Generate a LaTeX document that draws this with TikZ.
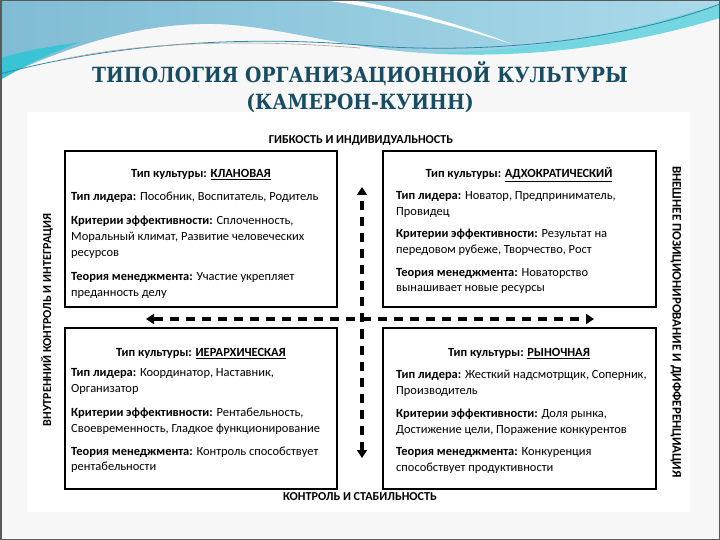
\documentclass[tikz,border=0pt]{standalone}
\usepackage{fontspec}
\setmainfont{Carlito}
\newfontfamily\slideserif{DejaVu Serif Condensed}
\usetikzlibrary{arrows.meta}
\definecolor{titleblue}{RGB}{24,76,98}
\definecolor{wavesteel}{RGB}{128,188,212}
\definecolor{wavelight}{RGB}{170,218,234}
\definecolor{wavecyan}{RGB}{56,196,212}
\definecolor{waveline}{RGB}{44,140,166}
\definecolor{slidebg}{RGB}{247,247,247}
\newcommand{\lbl}[1]{\textbf{#1}}
\newcommand{\kind}[1]{\textbf{Тип культуры: \underline{#1}}}
\tikzset{
  quad/.style={draw, line width=1.8bp, inner sep=0pt},
  qtitle/.style={font=\fontsize{12.5}{16}\selectfont, anchor=base},
  qbody/.style={font=\fontsize{12.5}{16}\selectfont, align=left, anchor=north west, inner sep=0pt},
  axislabel/.style={font=\bfseries\fontsize{12.2}{14}\selectfont},
  dasharrow/.style={line width=3.5bp, dash pattern=on 9bp off 7bp,
    {Triangle[length=8bp,width=10bp]}-{Triangle[length=8bp,width=10bp]}}
}

\begin{document}
\begin{tikzpicture}[x=1bp, y=-1bp]
\useasboundingbox (0,0) rectangle (720,540);
% slide
\fill[slidebg] (0,0) rectangle (720,540);
\fill[white] (27,112) rectangle (690,512);
% wave
\shade[left color=wavesteel, right color=wavelight] (0,0) -- (720,0) -- (720,12)
  .. controls (640,38) and (540,58) .. (440,54)
  .. controls (340,50) and (270,22) .. (200,24)
  .. controls (120,26) and (50,55) .. (0,78) -- cycle;
\fill[wavecyan] (0,58) .. controls (30,50) .. (80,42) .. controls (40,58) .. (0,80) -- cycle;
\fill[wavecyan!70] (430,53) .. controls (560,50) and (650,25) .. (720,4) -- (720,18)
  .. controls (640,42) and (540,60) .. (430,53);
\fill[white] (322,0) .. controls (400,10) and (460,28) .. (512,44)
  .. controls (450,20) and (390,6) .. (350,0) -- cycle;
\draw[waveline, line width=0.8bp] (0,74) .. controls (120,42) and (250,36) .. (360,45)
  .. controls (480,55) and (620,42) .. (720,4);
\draw[gray!70, line width=0.6bp] (60,60) .. controls (150,40) and (260,40) .. (360,48);
\draw[gray!70!black, line width=1.5bp] (0.75,0.75) rectangle (719.25,539.25);
% title
\node[font=\slideserif\bfseries\fontsize{21}{27}\selectfont, text=titleblue, align=center]
  (title) at (360,87) {ТИПОЛОГИЯ ОРГАНИЗАЦИОННОЙ КУЛЬТУРЫ\\(КАМЕРОН-КУИНН)};

% quadrants
\node[quad, minimum width=272bp, minimum height=156bp] (clan) at (201,229) {};
\node[quad, minimum width=273bp, minimum height=156bp] (adhoc) at (519.5,229) {};
\node[quad, minimum width=272bp, minimum height=161bp] (hier) at (201,408.5) {};
\node[quad, minimum width=273bp, minimum height=161bp] (market) at (519.5,408.5) {};

% axes
\coordinate (flex) at (362,187);
\coordinate (stab) at (362,458);
\coordinate (inner) at (146,319);
\coordinate (outer) at (594,319);
\draw[dasharrow] (stab) -- (flex);
\draw[dasharrow] (inner) -- (outer);

% axis labels
\node[axislabel] (flexlbl) at (361,140) {ГИБКОСТЬ И ИНДИВИДУАЛЬНОСТЬ};
\node[axislabel] (stablbl) at (360,497) {КОНТРОЛЬ И СТАБИЛЬНОСТЬ};
\node[axislabel, rotate=90] (innerlbl) at (47,320) {ВНУТРЕННИЙ КОНТРОЛЬ И ИНТЕГРАЦИЯ};
\node[axislabel, font=\bfseries\fontsize{13}{15}\selectfont, rotate=-90] (outerlbl) at (676,322) {ВНЕШНЕЕ ПОЗИЦИОНИРОВАНИЕ И ДИФФЕРЕНЦИАЦИЯ};

% clan
\node[qtitle] (clant) at (201,177.5) {\kind{КЛАНОВАЯ}};
\node[qbody] (clanb) at (71,192) {\lbl{Тип лидера:} Пособник, Воспитатель, Родитель\\[8bp]
  \lbl{Критерии эффективности:} Сплоченность,\\ Моральный климат, Развитие человеческих\\ ресурсов\\[8bp]
  \lbl{Теория менеджмента:} Участие укрепляет\\ преданность делу};
% adhocracy
\node[qtitle] (adhoct) at (519,177.5) {\kind{АДХОКРАТИЧЕСКИЙ}};
\node[qbody] (adhocb) at (396,191) {\lbl{Тип лидера:} Новатор, Предприниматель,\\ Провидец\\[6bp]
  \lbl{Критерии эффективности:} Результат на\\ передовом рубеже, Творчество, Рост\\[7bp]
  \lbl{Теория менеджмента:} Новаторство\\ вынашивает новые ресурсы};
% hierarchy
\node[qtitle] (hiert) at (201,356.5) {\kind{ИЕРАРХИЧЕСКАЯ}};
\node[qbody] (hierb) at (71,368) {\lbl{Тип лидера:} Координатор, Наставник,\\ Организатор\\[8bp]
  \lbl{Критерии эффективности:} Рентабельность,\\ Своевременность, Гладкое функционирование\\[7bp]
  \lbl{Теория менеджмента:} Контроль способствует\\ рентабельности};
% market
\node[qtitle] (markett) at (519,356.5) {\kind{РЫНОЧНАЯ}};
\node[qbody] (marketb) at (396,370) {\lbl{Тип лидера:} Жесткий надсмотрщик, Соперник,\\ Производитель\\[7bp]
  \lbl{Критерии эффективности:} Доля рынка,\\ Достижение цели, Поражение конкурентов\\[6bp]
  \lbl{Теория менеджмента:} Конкуренция\\ способствует продуктивности};
\end{tikzpicture}
\end{document}
